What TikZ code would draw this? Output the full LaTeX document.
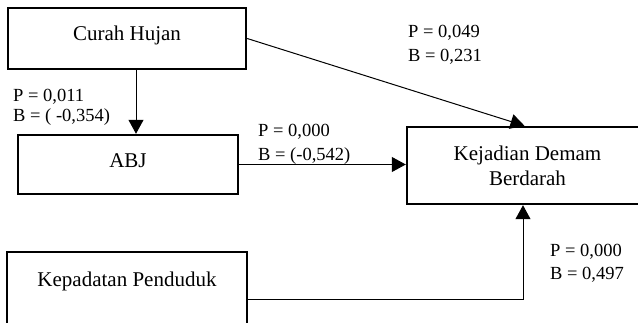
\documentclass[tikz,border=0pt]{standalone}
\usepackage{fontspec}
\setmainfont{Liberation Serif}
\usetikzlibrary{arrows.meta}
\begin{document}
\begin{tikzpicture}[x=1pt,y=-1pt,
  varbox/.style={draw, line width=2.4pt, rectangle, inner sep=0pt, align=center,
    font=\fontsize{21}{25}\selectfont},
  coef/.style={anchor=base west, inner sep=0pt, font=\fontsize{18.5}{22}\selectfont},
  link/.style={line width=1pt},
  tip/.style={-{Triangle[length=14pt,width=15pt]}}]
\useasboundingbox (0,0) rectangle (638,323);
\begin{scope}
\clip (0,0) rectangle (638,323);
% variable boxes
\node[varbox, minimum width=238, minimum height=61] (cr) at (127,38.5) {};
\node[font=\fontsize{21}{25}\selectfont, inner sep=0pt] (crt) at (127,35.5) {Curah Hujan};
\node[varbox, minimum width=220, minimum height=59] (abj) at (128,164.5) {};
\node[font=\fontsize{21}{25}\selectfont, inner sep=0pt] (abjt) at (128,161) {ABJ};
\node[varbox, minimum width=241, minimum height=77] (kd) at (527.5,165.5) {Kejadian Demam\\Berdarah};
\node[varbox, minimum width=240, minimum height=94, anchor=north] (kp) at (127,251) {};
\node[font=\fontsize{21}{25}\selectfont, inner sep=0pt] (kpt) at (127,281) {Kepadatan Penduduk};
% paths between variables
\draw[link,tip] ([xshift=9pt]cr.south) -- ([xshift=9pt]cr.south |- abj.north);
\draw[link,tip] (cr.east) -- ([xshift=-3pt]kd.north);
\draw[link,tip] (abj.east) -- (abj.east -| kd.west);
\draw[link,tip] (kp.east) -| ([xshift=-4.5pt]kd.south);
% path coefficients
\node[coef] (p1) at (13,102) {P = 0,011};
\node[coef] (b1) at (13,122) {B = ( -0,354)};
\node[coef] (p2) at (258,137) {P = 0,000};
\node[coef] (b2) at (258,161) {B = (-0,542)};
\node[coef] (p3) at (408,38) {P = 0,049};
\node[coef] (b3) at (408,62) {B = 0,231};
\node[coef] (p4) at (550,257) {P = 0,000};
\node[coef] (b4) at (550,280) {B = 0,497};
\end{scope}
\end{tikzpicture}
\end{document}
